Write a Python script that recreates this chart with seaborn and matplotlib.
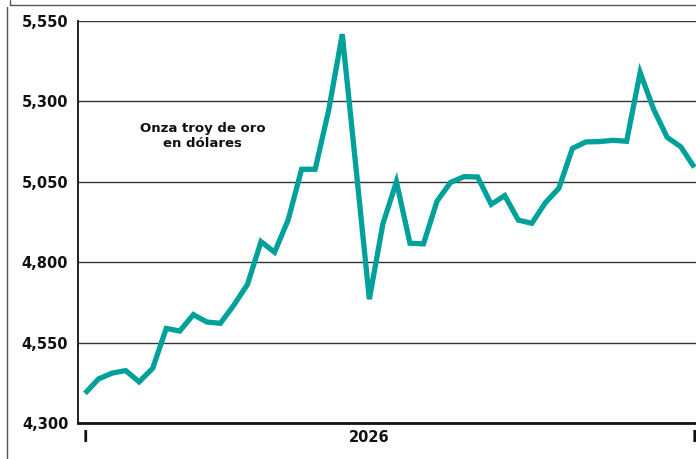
import matplotlib
matplotlib.use("Agg")
import matplotlib.pyplot as plt
from matplotlib.lines import Line2D
import seaborn as sns
import pandas as pd
import numpy as np

values = [4392, 4437, 4455, 4463, 4428, 4470, 4594, 4586, 4637, 4614,
          4610, 4667, 4731, 4864, 4831, 4931, 5089, 5089, 5273, 5509,
          5099, 4685, 4919, 5050, 4859, 4857, 4990, 5048, 5066, 5065,
          4980, 5007, 4931, 4921, 4985, 5030, 5154, 5174, 5175, 5179,
          5176, 5390, 5275, 5188, 5159, 5095]
y_ticks = [4300, 4550, 4800, 5050, 5300, 5550]
y_tick_labels = ["4,300", "4,550", "4,800", "5,050", "5,300", "5,550"]
x_tick_pos = [0, 21, 45]
x_tick_labels = ["I", "2026", "I"]
annotation = "Onza troy de oro\nen dólares"

sns.set_theme(style="white")
plt.rcParams['font.family'] = ['DejaVu Sans']

W, H = 696, 459
fig = plt.figure(figsize=(W / 100, H / 100), dpi=100)

# axes pixel geometry
left_px, top_px, bottom_px = 78, 21, 423
step = 13.54
x0_px = 85
xmin = -(x0_px - left_px) / step
xmax = 46.5
right_px = x0_px + xmax * step
ax = fig.add_axes([left_px / W, 1 - bottom_px / H,
                   (right_px - left_px) / W, (bottom_px - top_px) / H])

df = pd.DataFrame({"idx": np.arange(len(values)), "value": values})
sns.lineplot(data=df, x="idx", y="value", ax=ax, color="#00A19A",
             linewidth=3.8, solid_joinstyle="miter", solid_capstyle="butt")

ax.set_xlim(xmin, xmax)
ax.set_ylim(4300, 5550)
ax.set_yticks(y_ticks)
ax.set_yticklabels(y_tick_labels, fontsize=10.5, fontweight="bold", color="#111111")
ax.set_xticks(x_tick_pos)
ax.set_xticklabels(x_tick_labels, fontsize=10.5, fontweight="bold", color="#111111")
ax.tick_params(axis="y", length=0, pad=7)
ax.tick_params(axis="x", length=0, pad=5)
ax.set_xlabel("")
ax.set_ylabel("")

for v in y_ticks[1:]:
    ax.axhline(v, color="#333333", linewidth=1.0, zorder=0)

ax.spines["right"].set_visible(False)
ax.spines["top"].set_visible(False)
ax.spines["left"].set_color("#111111")
ax.spines["left"].set_linewidth(1.3)
ax.spines["bottom"].set_color("#111111")
ax.spines["bottom"].set_linewidth(2.0)

ax.text(8.7, 5192, annotation, ha="center", va="center", fontsize=9.5,
        fontweight="bold", color="#111111", linespacing=1.15)

# outer frame lines (figure coordinates)
fig.add_artist(Line2D([10 / W, 1.0], [1 - 5 / H, 1 - 5 / H], color="#555555", linewidth=1.0))
fig.add_artist(Line2D([10 / W, 10 / W], [1.0, 1 - 5 / H], color="#555555", linewidth=1.0))
fig.add_artist(Line2D([7 / W, 7 / W], [1 - 7 / H, 0.0], color="#555555", linewidth=1.0))

fig.savefig("out.png", dpi=100)
